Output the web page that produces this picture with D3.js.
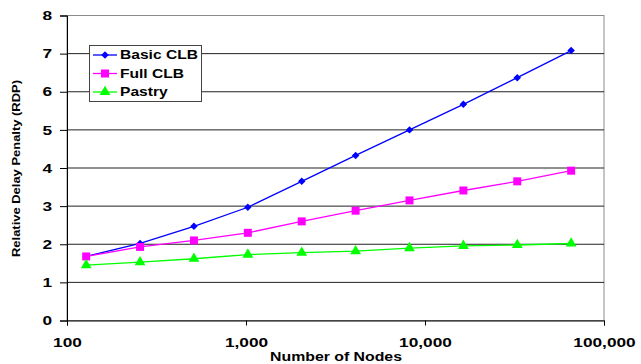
<!DOCTYPE html>
<html><head><meta charset="utf-8">
<script src="https://cdn.jsdelivr.net/npm/d3@7"></script>
<style>body{margin:0;background:#fff;}svg{display:block;font-family:"Liberation Sans",Arial,sans-serif;}</style>
</head><body><svg id="c" width="641" height="364"></svg>
<script>
const nodes = [128, 256, 512, 1024, 2048, 4096, 8192, 16384, 32768, 65536];
const basicCLB = [1.68, 2.02, 2.47, 2.97, 3.65, 4.33, 5.0, 5.67, 6.37, 7.08];
const fullCLB = [1.68, 1.93, 2.1, 2.3, 2.6, 2.88, 3.15, 3.41, 3.65, 3.93];
const pastry = [1.45, 1.53, 1.62, 1.73, 1.78, 1.82, 1.9, 1.96, 1.98, 2.02];
const xTicks = [100, 1000, 10000, 100000];
const yTicks = [0, 1, 2, 3, 4, 5, 6, 7, 8];
const seriesNames = ["Basic CLB", "Full CLB", "Pastry"];

const series = [
  {name: seriesNames[0], values: basicCLB, color: "#0000ff", sym: d3.symbolSquare, size: 28, rot: 45},
  {name: seriesNames[1], values: fullCLB, color: "#ff00ff", sym: d3.symbolSquare, size: 64, rot: 0},
  {name: seriesNames[2], values: pastry, color: "#00ff00", sym: d3.symbolTriangle, size: 50, rot: 0}
];

const SX = 1.33; // horizontal stretch of the text in the reference
const FF = "Liberation Sans, Arial, sans-serif";
const svg = d3.select("#c");
const L = 67, R = 604, T = 15.5, B = 320.5;
const x = d3.scaleLog().domain([100, 100000]).range([L, R]);
const y = d3.scaleLinear().domain([0, 8]).range([B, T]);

// plot border (gray)
svg.append("rect").attr("x", L).attr("y", T).attr("width", R - L).attr("height", B - T)
  .attr("fill", "none").attr("stroke", "#8a8a8a").attr("stroke-width", 1);

// gridlines
svg.append("g").selectAll("line").data(yTicks.filter(d => d > 0 && d < 8)).join("line")
  .attr("x1", L).attr("x2", R).attr("y1", d => y(d)).attr("y2", d => y(d))
  .attr("stroke", "#222").attr("stroke-width", 1);

// y axis
const yAxis = svg.append("g").attr("transform", `translate(${L},0)`)
  .call(d3.axisLeft(y).tickValues(yTicks).tickSize(7).tickPadding(8).tickFormat(d3.format("d")));
yAxis.select(".domain").attr("stroke", "#000");
yAxis.selectAll("text").attr("font-size", 13).attr("font-weight", "bold").attr("fill", "#000")
  .attr("font-family", FF).attr("x", -15 / SX).attr("transform", `scale(${SX},1)`);

// x axis
const xAxis = svg.append("g").attr("transform", `translate(0,${B})`)
  .call(d3.axisBottom(x).tickValues(xTicks).tickSize(5).tickPadding(12).tickFormat(d3.format(",")));
xAxis.select(".domain").attr("stroke", "#000");
xAxis.selectAll("text").attr("font-size", 13).attr("font-weight", "bold").attr("fill", "#000")
  .attr("font-family", FF).attr("transform", `scale(${SX},1)`);

// lines and markers
const line = d3.line().x((d, i) => x(nodes[i])).y(d => y(d));
series.forEach(s => {
  svg.append("path").datum(s.values).attr("d", line)
    .attr("fill", "none").attr("stroke", s.color).attr("stroke-width", 1.3);
  svg.append("g").selectAll("path").data(s.values).join("path")
    .attr("transform", (d, i) => `translate(${x(nodes[i])},${y(d)}) rotate(${s.rot})`)
    .attr("d", d3.symbol().type(s.sym).size(s.size))
    .attr("fill", s.color);
});

// legend
const lg = svg.append("g");
lg.append("rect").attr("x", 89.5).attr("y", 45.5).attr("width", 112).attr("height", 56)
  .attr("fill", "#fff").attr("stroke", "#444").attr("stroke-width", 1);
series.forEach((s, i) => {
  const yy = 55 + i * 18.5;
  lg.append("line").attr("x1", 93).attr("x2", 117).attr("y1", yy).attr("y2", yy)
    .attr("stroke", s.color).attr("stroke-width", 1.3);
  lg.append("path").attr("transform", `translate(105,${yy}) rotate(${s.rot})`)
    .attr("d", d3.symbol().type(s.sym).size(s.size)).attr("fill", s.color);
  lg.append("text").attr("transform", `translate(120,${yy}) scale(1.3,1)`).attr("dy", "0.36em")
    .attr("font-size", 12).attr("font-weight", "bold").text(s.name);
});

// axis titles
svg.append("text").attr("transform", `translate(15.5,168.5) scale(1.3,1) rotate(-90)`)
  .attr("text-anchor", "middle").attr("dy", "0.35em").attr("font-size", 9).attr("font-weight", "bold")
  .attr("textLength", 177).attr("lengthAdjust", "spacingAndGlyphs")
  .text("Relative Delay Penalty (RDP)");
svg.append("text").attr("transform", `translate(336,361) scale(1.32,1)`).attr("text-anchor", "middle")
  .attr("font-size", 12).attr("font-weight", "bold").text("Number of Nodes");
</script></body></html>
